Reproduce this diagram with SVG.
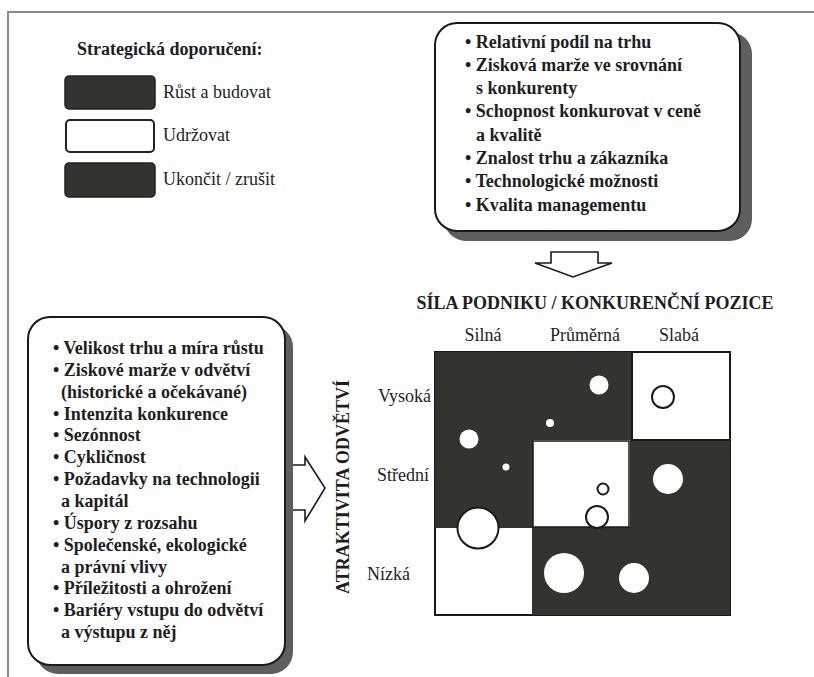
<svg xmlns="http://www.w3.org/2000/svg" width="814" height="677" viewBox="0 0 814 677">
<style>
.t{font-family:"Liberation Serif","Times New Roman",serif;font-size:18px;fill:#1e1e1e}
.b{font-weight:bold}
.box{fill:#fff;stroke:#1a1a1a;stroke-width:2}
.shadow{fill:#5e5e5c}
.dark{fill:#34332f}
.wc{fill:#fff}
.oc{fill:#fff;stroke:#1a1a1a;stroke-width:2}
.arrow{fill:#fff;stroke:#1a1a1a;stroke-width:1.6;stroke-linejoin:miter}
</style>
<rect width="814" height="677" fill="#fff"/>
<path d="M8,677 V12 H814" fill="none" stroke="#8a8a8a" stroke-width="2"/>

<g id="legend">
  <text class="t b" x="77" y="55">Strategická doporučení:</text>
  <rect x="65" y="76" width="90" height="33" rx="4" class="dark" stroke="#222" stroke-width="1.5"/>
  <text class="t" x="163" y="98">Růst a budovat</text>
  <rect x="66" y="120" width="88" height="32" rx="4" fill="#fff" stroke="#222" stroke-width="2"/>
  <text class="t" x="163" y="141">Udržovat</text>
  <rect x="65" y="163" width="90" height="34" rx="4" class="dark" stroke="#222" stroke-width="1.5"/>
  <text class="t" x="163" y="185">Ukončit / zrušit</text>
</g>

<g id="strength-factors">
  <rect x="444" y="32" width="308" height="209" rx="22" class="shadow"/>
  <rect x="435" y="23" width="305" height="208" rx="22" class="box"/>
  <text class="t b" x="465" y="48">• Relativní podíl na trhu</text>
  <text class="t b" x="465" y="71">• Zisková marže ve srovnání</text>
  <text class="t b" x="476" y="94">s konkurenty</text>
  <text class="t b" x="465" y="117">• Schopnost konkurovat v ceně</text>
  <text class="t b" x="476" y="141">a kvalitě</text>
  <text class="t b" x="465" y="164">• Znalost trhu a zákazníka</text>
  <text class="t b" x="465" y="187">• Technologické možnosti</text>
  <text class="t b" x="465" y="211">• Kvalita managementu</text>
</g>

<g id="attractiveness-factors">
  <rect x="36" y="325" width="257" height="349" rx="22" class="shadow"/>
  <rect x="28" y="317" width="257" height="348" rx="22" class="box"/>
  <text class="t b" x="53" y="354">• Velikost trhu a míra růstu</text>
  <text class="t b" x="53" y="376">• Ziskové marže v odvětví</text>
  <text class="t b" x="61" y="398">(historické a očekávané)</text>
  <text class="t b" x="53" y="420">• Intenzita konkurence</text>
  <text class="t b" x="53" y="441">• Sezónnost</text>
  <text class="t b" x="53" y="463">• Cykličnost</text>
  <text class="t b" x="53" y="485">• Požadavky na technologii</text>
  <text class="t b" x="61" y="507">a kapitál</text>
  <text class="t b" x="53" y="529">• Úspory z rozsahu</text>
  <text class="t b" x="53" y="551">• Společenské, ekologické</text>
  <text class="t b" x="61" y="573">a právní vlivy</text>
  <text class="t b" x="53" y="594">• Příležitosti a ohrožení</text>
  <text class="t b" x="53" y="616">• Bariéry vstupu do odvětví</text>
  <text class="t b" x="61" y="638">a výstupu z něj</text>
</g>

<g id="connectors">
  <path class="arrow" d="M551,252 H598 V263 H612 L573,277 L535,263 H551 Z"/>
  <path class="arrow" d="M293,465 H305 V457 L325,488 L305,521 V510 H293"/>
</g>

<g id="matrix">
  <text class="t b" x="595" y="309" text-anchor="middle">SÍLA PODNIKU / KONKURENČNÍ POZICE</text>
  <text class="t" x="483" y="341" text-anchor="middle">Silná</text>
  <text class="t" x="585" y="341" text-anchor="middle">Průměrná</text>
  <text class="t" x="679" y="341" text-anchor="middle">Slabá</text>
  <text class="t b" transform="translate(349,487) rotate(-90)" text-anchor="middle">ATRAKTIVITA ODVĚTVÍ</text>
  <text class="t" x="378" y="402">Vysoká</text>
  <text class="t" x="377" y="481">Střední</text>
  <text class="t" x="367" y="580">Nízká</text>

  <rect x="435" y="352" width="295" height="263" fill="#fff" stroke="#1a1a1a" stroke-width="2"/>
  <path class="dark" d="M435,352 H632 V440 H533 V528 H435 Z"/>
  <path class="dark" d="M630,440 H730 V615 H532 V527 H630 Z"/>
  <rect x="533" y="441" width="96" height="86" fill="#fff" stroke="#1a1a1a" stroke-width="1.5"/>
  <rect x="632" y="352" width="98" height="88" fill="#fff" stroke="#1a1a1a" stroke-width="2"/>

  <circle class="wc" cx="599" cy="385" r="9.5"/>
  <circle class="wc" cx="550" cy="423" r="4"/>
  <circle class="oc" cx="663" cy="397" r="11"/>
  <circle class="wc" cx="469" cy="439" r="9.5"/>
  <circle class="wc" cx="506" cy="467" r="3.5"/>
  <circle class="wc" cx="668" cy="479" r="15"/>
  <circle class="oc" cx="603" cy="489" r="5.5"/>
  <circle class="oc" cx="597" cy="517" r="11"/>
  <circle class="oc" cx="478" cy="528" r="20.5"/>
  <circle class="wc" cx="564" cy="573" r="20"/>
  <circle class="wc" cx="634" cy="578" r="15"/>
</g>
</svg>
